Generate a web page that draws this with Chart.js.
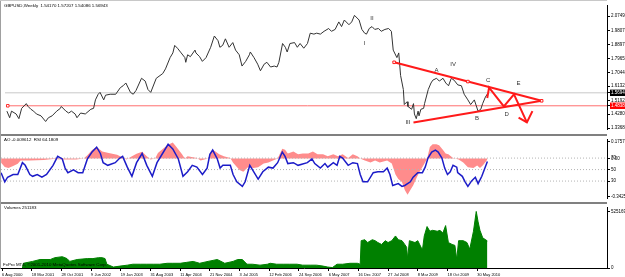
<!DOCTYPE html>
<html>
<head>
<meta charset="utf-8">
<script src="https://cdn.jsdelivr.net/npm/chart.js@4.4.0/dist/chart.umd.min.js"></script>
<style>
  html, body { margin: 0; padding: 0; background: #fff; }
  #wrap { position: relative; width: 625px; height: 277px; overflow: hidden; }
  canvas { position: absolute; left: 0; }
  .sep { position: absolute; left: 0; width: 607px; height: 2px; background: #808080; }
</style>
</head>
<body>
<div id="wrap">
  <canvas id="main" width="625" height="134" style="top:0"></canvas>
  <canvas id="osc" width="625" height="66" style="top:136px"></canvas>
  <canvas id="vol" width="625" height="73" style="top:204px"></canvas>
  <div class="sep" style="top:134px"></div>
  <div class="sep" style="top:202px"></div>
  <div style="position:absolute;left:0;top:0;width:1px;height:269px;background:#a0a0a0"></div>
  <div style="position:absolute;left:0;top:0;width:607px;height:1px;background:#c8c8c8"></div>
</div>
<script>
// weeks counted from 6 Aug 2000
const dateLabels = ['6 Aug 2000','18 Mar 2001','28 Oct 2001','9 Jun 2002','19 Jan 2003','31 Aug 2003',
  '11 Apr 2004','21 Nov 2004','3 Jul 2005','12 Feb 2006','24 Sep 2006','6 May 2007','16 Dec 2007',
  '27 Jul 2008','8 Mar 2009','18 Oct 2009','30 May 2010']
const dateWeeks = dateLabels.map((_, i) => i * 32)

// price (weekly close, turning points)
const priceWeek = [1,4,6,11,14,17,22,24,27,30,33,38,43,46,50,55,59,60,65,68,71,75,77,81,86,92,95,97,100,102,106,108,113,119,124,127,130,135,138,141,147,151,154,157,163,170,173,178,181,183,186,190,194,195,197,200,205,206,210,213,217,222,226,230,232,235,238,242,246,249,253,256,260,264,265,269,273,276,280,283,287,291,294,296,300,303,305,308,313,316,319,323,327,330,334,337,341,345,350,353,357,361,364,367,372,375,378,383,386,389,391,394,397,400,404,407,411,415,418,420,424,426,428,431,432,435,436,440,442,443,445,447,448,450,453,454,458,461,463,467,470,474,477,480,483,486,490,494,497,501,504,508,512,515,517,520,523]
const priceClose = [1.4484,1.4050,1.4484,1.4298,1.3988,1.4670,1.4980,1.4794,1.4608,1.4484,1.4298,1.4174,1.3802,1.4050,1.4174,1.4484,1.4670,1.4794,1.4484,1.4360,1.4484,1.4298,1.4050,1.4360,1.4298,1.4608,1.4670,1.5228,1.5600,1.5724,1.5228,1.5538,1.5600,1.5600,1.6034,1.6158,1.6344,1.5724,1.5600,1.5848,1.6654,1.6468,1.5910,1.5724,1.6654,1.6964,1.7274,1.8018,1.8328,1.8824,1.8638,1.8328,1.8018,1.7708,1.8204,1.8080,1.8514,1.8328,1.8080,1.7770,1.8018,1.8700,1.9444,1.9134,1.8700,1.8824,1.9258,1.8700,1.9010,1.8514,1.8204,1.7460,1.7770,1.8204,1.8390,1.8018,1.7584,1.7150,1.7584,1.7708,1.7398,1.7460,1.7398,1.7708,1.8948,1.8700,1.8390,1.8948,1.9010,1.8700,1.8948,1.8638,1.8948,1.9630,1.9568,1.9630,1.9568,1.9754,1.9940,1.9754,1.9878,2.0374,2.0064,2.0498,2.0188,2.0374,2.0808,2.0498,1.9878,1.9630,1.9568,1.9940,2.0064,1.9878,1.9940,1.9754,1.9878,1.9940,1.9754,1.8514,1.8018,1.8328,1.6840,1.5910,1.4918,1.5104,1.4794,1.4608,1.4980,1.4298,1.3988,1.4484,1.4174,1.4608,1.4670,1.4980,1.5910,1.6344,1.6530,1.6654,1.6468,1.6654,1.6344,1.6158,1.6654,1.6530,1.6220,1.6158,1.5600,1.5228,1.4918,1.5228,1.4484,1.4608,1.4980,1.5414,1.5694]

const priceTicks = [1.3368, 1.428, 1.5192, 1.61325, 1.70445, 1.7965, 1.8897, 1.9807, 2.0749]
const lastClose = 1.56943
const hLevel = 1.48383

// hand drawn objects (week, price)
const upperWeek = [421, 501, 581], upperPrice = [1.7708, 1.6437, 1.5166]
const lowerWeek = [442, 581], lowerPrice = [1.374, 1.5166]
const zigWeek = [522, 524, 540, 551, 565], zigPrice = [1.5352, 1.6034, 1.4794, 1.56, 1.374]
const arrowWeek = [556, 565, 571], arrowPrice = [1.405, 1.374, 1.4484]
const waveText = ['II','I','III','A','IV','B','C','D','E']
const waveWeek = [397, 389, 436, 467, 485, 511, 523, 543, 556]
const wavePrice = [2.0622, 1.8948, 1.374, 1.715, 1.7584, 1.3988, 1.653, 1.4298, 1.6344]

// oscillators
const rsiWeek = [-1,3,6,12,17,22,25,30,33,38,43,48,55,60,65,68,71,77,82,87,92,97,102,106,109,114,122,127,130,135,140,145,151,156,162,167,173,179,184,190,195,200,205,210,216,221,224,227,232,235,238,246,249,253,259,262,267,270,276,281,287,292,297,302,305,308,314,319,329,334,337,343,348,351,357,361,364,367,373,378,383,386,389,394,400,405,411,415,418,421,427,431,434,440,443,448,453,456,459,463,467,470,474,477,480,483,486,490,491,496,499,502,506,510,513,517,523]
const rsiValue = [44.6,28.7,36.7,41.4,41.4,62,57.4,41.4,38.3,41.4,36.7,41.4,57.4,73,68.5,52.6,44.6,49.4,44.6,44.6,68.5,80.5,89,78,62,57.4,62,70,73,54.2,38.3,62,78,57.4,38.3,62,78,94,86,68.5,38.3,46.2,57.4,54.2,41.4,52.6,76.5,84,68.5,52.6,57.4,57.4,41.4,28.7,20.7,28.7,57.4,49.4,33.5,46.2,54.2,52.6,62,80.5,73,60.5,62,57.4,62,68.5,60.5,52.6,60.5,54.2,62,57.4,73,70,57.4,62,60.5,41.4,28.7,28.7,44.6,46.2,46.2,52.6,41.4,22.3,25.5,20.7,22.3,28.7,36.7,44.6,44.6,54.2,70,80.5,84,80.5,70,52.6,41.4,46.2,57.4,54.2,44.6,38.3,28.7,20.7,30.3,36.7,25.5,38.3,64.18]
const rsiLevels = [30, 50, 70]

const aoWeek = [-1,3,7,12,17,20,30,45,55,65,80,88,92,97,102,108,115,124,130,134,140,145,151,156,160,165,168,178,184,188,194,197,200,210,214,222,227,230,234,239,246,249,256,260,265,271,276,282,287,292,297,302,305,308,314,319,324,330,335,340,346,351,357,362,367,373,378,383,387,391,397,402,407,415,420,424,427,431,434,437,440,443,447,450,454,458,461,464,468,471,475,478,481,486,492,497,502,508,512,515,518,523]
const aoValue = [-0.04,-0.08,-0.09,-0.07,-0.05,-0.02,-0.02,-0.015,-0.005,-0.01,-0.01,0,0.03,0.08,0.1075,0.0645,0.05,0.035,0.01,-0.01,0.02,0.045,0.064,0.02,-0.01,0,0.05,0.125,0.15,0.107,0.04,0,0.02,0.005,-0.02,0,0.0817,0.0645,0.04,0.02,0.005,-0.04,-0.1075,-0.125,-0.082,-0.09,-0.082,-0.047,-0.039,-0.02,0,0.09,0.082,0.047,0.065,0.039,0.047,0.047,0.065,0.039,0.039,0.02,0.039,0.02,0.039,0.005,0.039,0.02,-0.005,-0.02,-0.039,-0.02,-0.039,-0.02,-0.047,-0.15,-0.193,-0.22,-0.297,-0.34,-0.297,-0.254,-0.176,-0.125,-0.065,-0.004,0.107,0.133,0.133,0.125,0.082,0.047,0.039,0.004,-0.01,-0.039,-0.082,-0.09,-0.065,-0.09,-0.065,-0.0096]

// volumes
const volWeek = [22,23,33,41,52,57,65,70,73,81,92,98,104,108,111,113,120,127,135,141,149,156,163,170,178,184,192,199,206,213,222,232,240,249,254,259,264,270,278,286,289,296,303,310,318,324,332,339,346,351,356,361,367,375,383,386,387,391,394,399,402,405,409,413,416,420,424,427,431,434,436,437,439,445,448,453,455,458,461,464,469,472,475,478,481,485,488,490,492,497,501,504,508,511,513,515,518,523]
const volValue = [0,43800,61300,78800,78800,96000,105000,87500,61300,78800,87500,87500,96000,96000,87500,35000,8800,17500,26300,35000,35000,35000,35000,35000,43800,43800,43800,52500,61300,43800,61300,78800,43800,61300,78800,78800,35000,35000,26300,35000,43800,35000,35000,35000,35000,26300,26300,26300,17500,8800,4000,35000,35000,43800,43800,35000,253800,262600,236300,262600,253800,236300,218800,253800,236300,253800,297600,262600,253800,218800,192600,87500,253800,236300,253800,166300,297600,385100,341400,350100,341400,350100,323900,393900,236300,218800,210100,78800,253800,253800,236300,175100,341400,525169,428900,350100,280100,251183]

const fontFam = '"Liberation Sans", Arial, sans-serif'
const xMin = -1.08, xMax = 651.9
const aoMin = -0.374, aoMax = 0.176

function pts(xs, ys) {
  return xs.map((x, i) => ({ x: x, y: ys[i] }))
}

function captions(items) {
  return {
    id: 'captions',
    afterDatasetsDraw(chart) {
      const ctx = chart.ctx
      ctx.save()
      items.forEach(it => {
        ctx.font = (it.size || 4.4) + 'px ' + fontFam
        ctx.fillStyle = it.color || '#000'
        ctx.textBaseline = 'middle'
        ctx.textAlign = it.align || 'left'
        let x = it.x, y = it.y
        if (it.w !== undefined) {
          x = chart.scales.x.getPixelForValue(it.w)
          y = chart.scales.y.getPixelForValue(it.p)
        }
        ctx.fillText(it.text, x, y)
      })
      ctx.restore()
    }
  }
}

const common = {
  responsive: false,
  animation: false,
  plugins: { legend: { display: false }, tooltip: { enabled: false } },
  elements: { point: { radius: 0 }, line: { tension: 0 } }
}

const rightAxis = {
  position: 'right',
  afterFit: s => { s.width = 18 },
  grid: { drawOnChartArea: false, tickLength: 3, color: '#000' },
  border: { color: '#000' }
}

const boxed = ctx => ctx.tick && (ctx.tick.value === lastClose || ctx.tick.value === hLevel)

// main price panel
const waveItems = waveText.map((t, i) => ({ text: t, w: waveWeek[i], p: wavePrice[i], size: 6, color: '#333', align: 'center' }))
new Chart(document.getElementById('main'), {
  type: 'line',
  data: {
    datasets: [
      { data: pts(upperWeek, upperPrice), borderColor: '#ff1a1a', borderWidth: 2, order: 1,
        pointRadius: 1.8, pointStyle: 'rect', pointBackgroundColor: '#fff', pointBorderColor: '#ff1a1a', pointBorderWidth: 1 },
      { data: pts(lowerWeek, lowerPrice), borderColor: '#ff1a1a', borderWidth: 2, order: 1 },
      { data: pts(zigWeek, zigPrice), borderColor: '#ff1a1a', borderWidth: 2, order: 1 },
      { data: pts(arrowWeek, arrowPrice), borderColor: '#ff1a1a', borderWidth: 2, order: 1 },
      { data: pts(priceWeek, priceClose), borderColor: '#333', borderWidth: 1, order: 2 },
      { data: pts([xMin, xMax], [lastClose, lastClose]), borderColor: '#c8c8c8', borderWidth: 1, order: 5 },
      { data: pts([xMin + 3, xMax], [hLevel, hLevel]), borderColor: '#ff6e6e', borderWidth: 1, order: 5,
        pointRadius: [1.8, 0], pointStyle: 'rect', pointBackgroundColor: '#fff', pointBorderColor: '#ff3030', pointBorderWidth: 1 }
    ]
  },
  options: Object.assign({}, common, {
    layout: { padding: { left: 1, top: 2, bottom: 0, right: 0 } },
    scales: {
      x: { type: 'linear', min: xMin, max: xMax, display: false },
      y: Object.assign({}, rightAxis, {
        min: 1.3306, max: 2.149,
        afterBuildTicks: s => { s.ticks = priceTicks.concat([lastClose, hLevel]).map(v => ({ value: v })) },
        ticks: {
          autoSkip: false, padding: 1, font: { size: 4.5, family: fontFam },
          color: ctx => boxed(ctx) ? '#fff' : '#000',
          showLabelBackdrop: ctx => !!boxed(ctx),
          backdropColor: ctx => (ctx.tick && ctx.tick.value === lastClose) ? '#000' : '#ff0000',
          backdropPadding: { x: 1, y: 0.5 },
          callback: v => v.toFixed(5)
        }
      })
    }
  }),
  plugins: [captions([{ text: 'GBPUSD,Weekly  1.54170 1.57207 1.54086 1.56943', x: 4, y: 6 }].concat(waveItems))]
})

// AO + RSI panel
const oscTicks = [
  { value: 98.8, label: '0.175700' },
  { value: 70, label: '70' },
  { value: 69.3, label: '0.00' },
  { value: 50, label: '50' },
  { value: 30, label: '30' },
  { value: 3.2, label: '-0.342550' }
]
new Chart(document.getElementById('osc'), {
  type: 'line',
  data: {
    datasets: [
      { data: pts(rsiWeek, rsiValue), yAxisID: 'y', borderColor: '#1c1cc8', borderWidth: 1.5, order: 1 },
      { data: pts([xMin, xMax], [rsiLevels[0], rsiLevels[0]]), yAxisID: 'y', borderColor: '#b4b4b4', borderWidth: 1, borderDash: [1, 2], order: 2 },
      { data: pts([xMin, xMax], [rsiLevels[1], rsiLevels[1]]), yAxisID: 'y', borderColor: '#b4b4b4', borderWidth: 1, borderDash: [1, 2], order: 2 },
      { data: pts([xMin, xMax], [rsiLevels[2], rsiLevels[2]]), yAxisID: 'y', borderColor: '#b4b4b4', borderWidth: 1, borderDash: [1, 2], order: 2 },
      { data: pts(aoWeek, aoValue), yAxisID: 'ao', borderWidth: 0, fill: 'origin', backgroundColor: '#ff8c8c', order: 3 }
    ]
  },
  options: Object.assign({}, common, {
    layout: { padding: { left: 1, top: 1, bottom: 1, right: 0 } },
    scales: {
      x: { type: 'linear', min: xMin, max: xMax, display: false },
      ao: { min: aoMin, max: aoMax, display: false },
      y: Object.assign({}, rightAxis, {
        min: 0, max: 102,
        afterBuildTicks: s => { s.ticks = oscTicks.map(t => ({ value: t.value })) },
        ticks: {
          autoSkip: false, padding: 1, color: '#000', font: { size: 4.5, family: fontFam },
          callback: (v, i) => oscTicks[i].label
        }
      })
    }
  }),
  plugins: [captions([{ text: 'AO -0.009612  RSI 64.1809', x: 4, y: 4 }])]
})

// volume panel
new Chart(document.getElementById('vol'), {
  type: 'line',
  data: {
    datasets: [
      { data: pts(volWeek, volValue), borderColor: '#008000', borderWidth: 1, fill: 'origin', backgroundColor: '#008000' }
    ]
  },
  options: Object.assign({}, common, {
    layout: { padding: { left: 1, top: 0, bottom: 0, right: 0 } },
    scales: {
      x: {
        type: 'linear', min: xMin, max: xMax, position: 'bottom',
        afterBuildTicks: s => { s.ticks = dateWeeks.map(v => ({ value: v })) },
        afterFit: s => { s.height = 9 },
        ticks: {
          autoSkip: false, maxRotation: 0, minRotation: 0, align: 'start', padding: 1,
          color: '#000', font: { size: 4, family: fontFam },
          callback: (v, i) => dateLabels[i]
        },
        grid: { drawOnChartArea: false, tickLength: 3, color: '#000' },
        border: { color: '#000' }
      },
      y: Object.assign({}, rightAxis, {
        min: 0, max: 560000,
        afterBuildTicks: s => { s.ticks = [{ value: 0 }, { value: 525169 }] },
        ticks: { autoSkip: false, padding: 1, color: '#000', font: { size: 4.5, family: fontFam }, callback: v => String(v) }
      })
    }
  }),
  plugins: [captions([
    { text: 'Volumes 251183', x: 4, y: 4 },
    { text: 'FxPro MT4, \u00a92001-2010 MetaQuotes Software Corp.', x: 3, y: 61 }
  ])]
})
</script>
</body>
</html>
